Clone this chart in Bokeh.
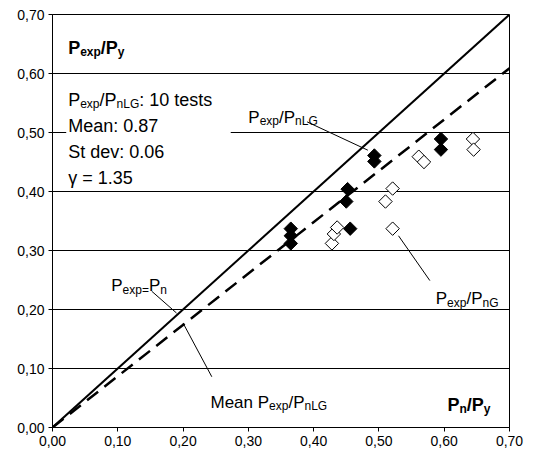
import math
from bokeh.plotting import figure
from bokeh.models import Label, FixedTicker, BoxAnnotation, Range1d
from bokeh.embed import file_html
from bokeh.resources import INLINE

# ---------------- data ----------------
# P_exp/P_nLG (filled diamonds): x = Pn/Py, y = Pexp/Py
lg_x = [0.365, 0.365, 0.365, 0.452, 0.450, 0.456, 0.493, 0.493, 0.595, 0.595]
lg_y = [0.337, 0.325, 0.312, 0.404, 0.383, 0.337, 0.461, 0.451, 0.489, 0.471]
# P_exp/P_nG (open diamonds)
g_x = [0.428, 0.431, 0.436, 0.510, 0.521, 0.521, 0.561, 0.569, 0.644, 0.645]
g_y = [0.312, 0.328, 0.339, 0.383, 0.405, 0.337, 0.459, 0.450, 0.489, 0.471]
# reference lines
equal_x = [0.0, 0.7]
equal_y = [0.0, 0.7]
mean_x = [0.0, 0.7]
mean_y = [0.0, 0.609]
# axes
x_ticks = [0.0, 0.1, 0.2, 0.3, 0.4, 0.5, 0.6, 0.7]
x_tick_labels = ["0,00", "0,10", "0,20", "0,30", "0,40", "0,50", "0,60", "0,70"]
y_ticks = [0.0, 0.1, 0.2, 0.3, 0.4, 0.5, 0.6, 0.7]
y_tick_labels = ["0,00", "0,10", "0,20", "0,30", "0,40", "0,50", "0,60", "0,70"]
stats_lines = ["Mean: 0.87", "St dev: 0.06", "\u03b3 = 1.35"]

# ---------------- styling ----------------
FONT = "Liberation Sans"
MAIN = 17
SUB = 12
DROP = 4

p = figure(width=534, height=461,
           x_range=Range1d(0, 0.7), y_range=Range1d(0, 0.7),
           output_backend="svg", toolbar_location=None,
           min_border_left=52, min_border_right=25,
           min_border_top=14, min_border_bottom=34,
           background_fill_color="white", border_fill_color="white",
           outline_line_color="black", outline_line_width=1)

for ax, ticks, labels in ((p.xaxis[0], x_ticks, x_tick_labels),
                          (p.yaxis[0], y_ticks, y_tick_labels)):
    ax.ticker = FixedTicker(ticks=ticks)
    ax.major_label_overrides = {t: l for t, l in zip(ticks, labels)}
    ax.major_tick_in = 0
    ax.major_tick_out = 4
    ax.minor_tick_line_color = None
    ax.axis_line_color = "black"
    ax.major_tick_line_color = "black"
    ax.major_label_text_font = FONT
    ax.major_label_text_font_size = "14px"
    ax.major_label_text_color = "black"
    ax.major_label_standoff = 4

p.xgrid.visible = False
p.ygrid.ticker = FixedTicker(ticks=y_ticks)
p.ygrid.grid_line_color = "black"
p.ygrid.grid_line_width = 1

# lines
p.line(equal_x, equal_y, line_color="black", line_width=2)
p.line(mean_x, mean_y, line_color="black", line_width=2.5, line_dash="14 8")

# points
p.scatter(lg_x, lg_y, marker="square", size=9.5, angle=math.pi / 4,
          fill_color="black", line_color="black", line_width=1)
p.scatter(g_x, g_y, marker="square", size=9.5, angle=math.pi / 4,
          fill_color="white", line_color="black", line_width=1)

# leader lines (annotation positions)
lead_x0 = [0.390, 0.530, 0.152, 0.200]
lead_y0 = [0.518, 0.325, 0.231, 0.177]
lead_x1 = [0.483, 0.578, 0.190, 0.244]
lead_y1 = [0.470, 0.249, 0.194, 0.086]
p.segment(lead_x0, lead_y0, lead_x1, lead_y1, line_color="black", line_width=1)

# white box behind stats text
p.add_layout(BoxAnnotation(left=0.021, right=0.273, bottom=0.47, top=0.53,
                           fill_color="white", fill_alpha=1.0, line_color=None))

REG = {'P': 667, 'e': 556, 'x': 500, 'p': 556, '/': 278, 'n': 556, 'L': 556,
       'G': 778, 'y': 500, ':': 278, ' ': 278, 't': 278, 's': 500, '=': 584,
       'M': 833, 'a': 556, '.': 278, 'S': 667, 'd': 556, 'v': 500}
BOLD = {'P': 667, 'e': 556, 'x': 556, 'p': 611, '/': 278, 'y': 556, 'n': 611}


def text_width(txt, size, bold):
    table = BOLD if bold else REG
    return sum(table.get(c, 556) for c in txt) * size / 1000.0


def rich(x, y, runs, bold=False, size=MAIN, sub=SUB):
    off = 0.0
    for txt, is_sub in runs:
        fs = sub if is_sub else size
        p.add_layout(Label(x=x, y=y, x_offset=off, y_offset=-DROP if is_sub else 0,
                           text=txt, text_font=FONT, text_font_size=f"{fs}px",
                           text_font_style="bold" if bold else "normal",
                           text_color="black", text_baseline="alphabetic",
                           text_align="left"))
        off += text_width(txt, fs, bold)


# axis titles inside plot
rich(0.024, 0.643, [("P", False), ("exp", True), ("/P", False), ("y", True)], bold=True, size=18)
rich(0.605, 0.038, [("P", False), ("n", True), ("/P", False), ("y", True)], bold=True, size=18)

# stats block
rich(0.024, 0.555, [("P", False), ("exp", True), ("/P", False), ("nLG", True),
                    (": 10 tests", False)], size=18, sub=12)
for i, line in enumerate(stats_lines):
    p.add_layout(Label(x=0.024, y=0.555, y_offset=-(i + 1) * 26, text=line,
                       text_font=FONT, text_font_size="18px", text_color="black",
                       text_baseline="alphabetic"))

# series labels
rich(0.300, 0.526, [("P", False), ("exp", True), ("/P", False), ("nLG", True)])
rich(0.587, 0.218, [("P", False), ("exp", True), ("/P", False), ("nG", True)])
rich(0.090, 0.240, [("P", False), ("exp=", True), ("P", False), ("n", True)])
rich(0.242, 0.043, [("Mean P", False), ("exp", True), ("/P", False), ("nLG", True)])

open("out.html", "w").write(file_html(p, INLINE))
